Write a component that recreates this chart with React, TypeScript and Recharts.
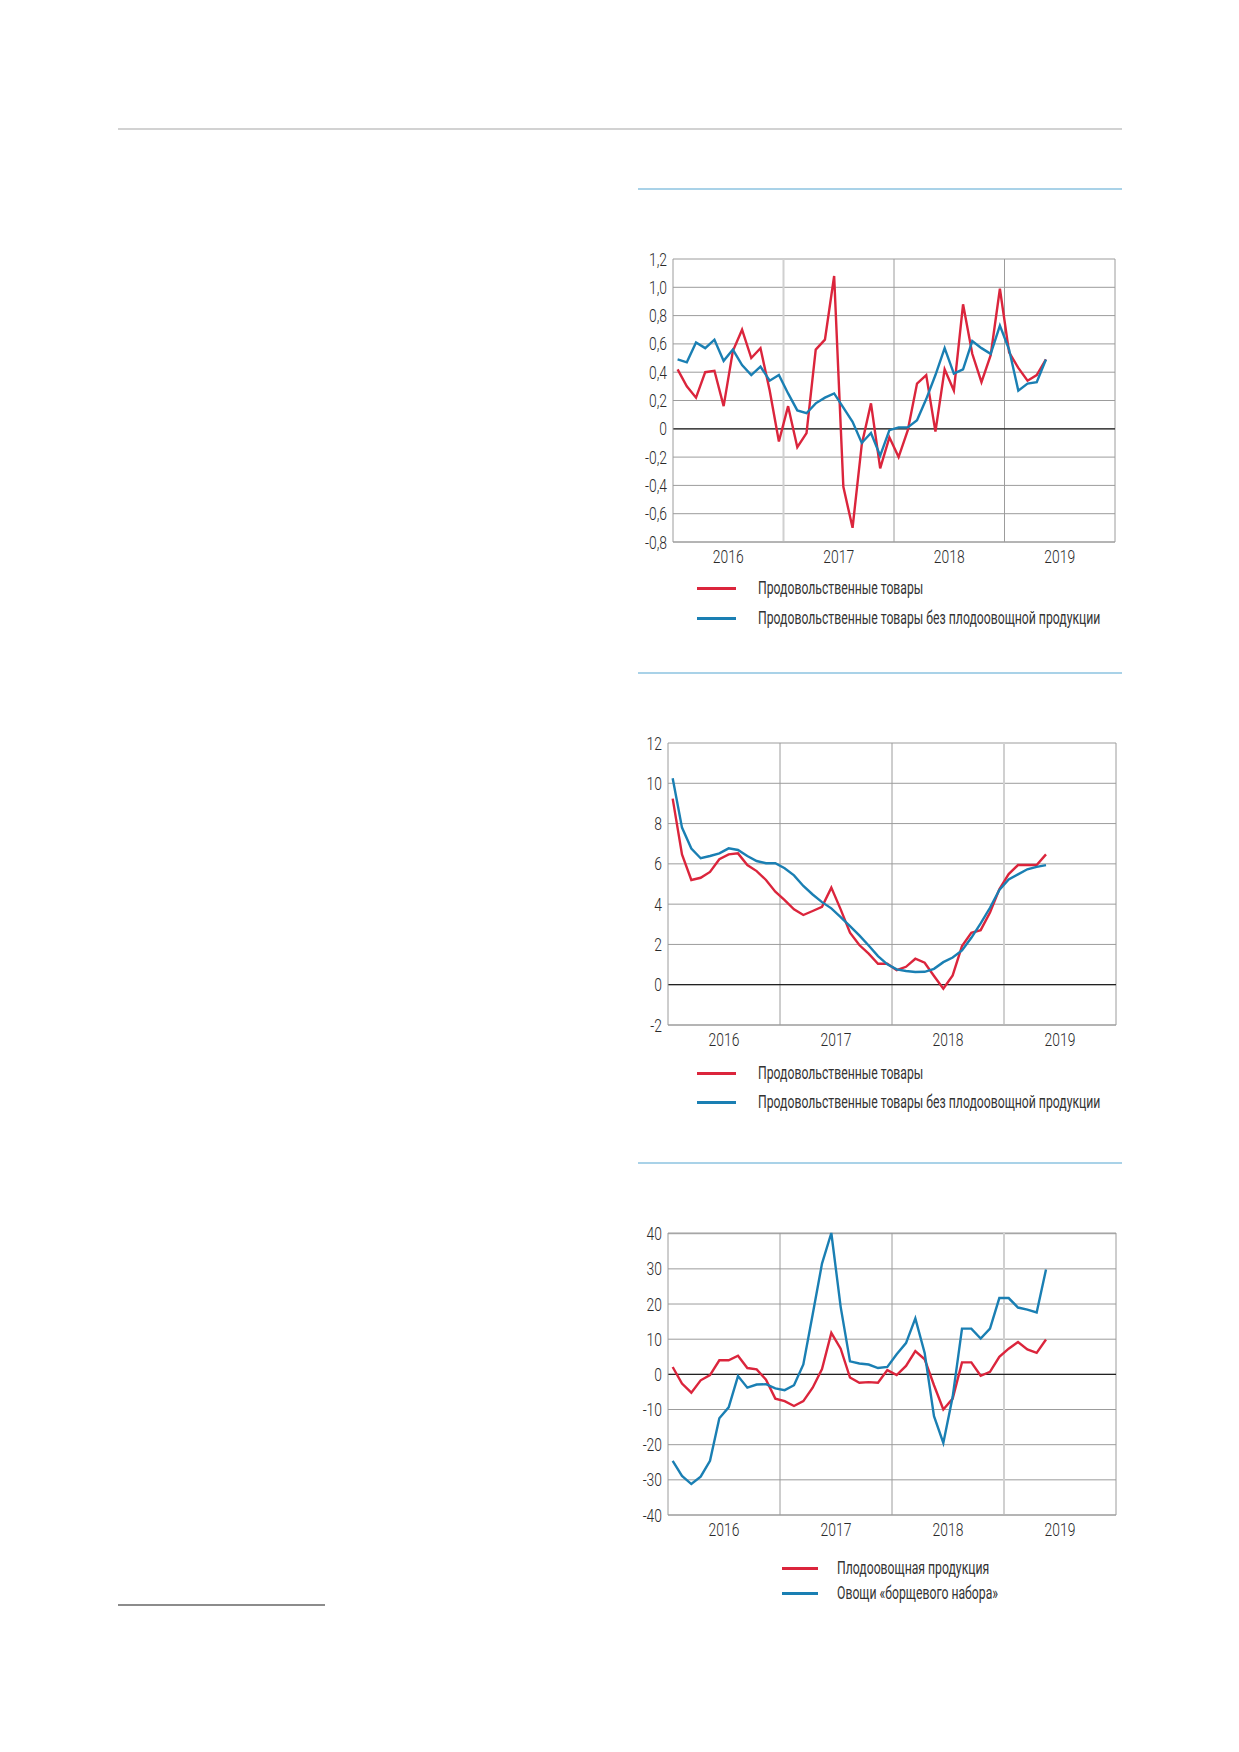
import React from 'react';
import { LineChart, Line, XAxis, YAxis, CartesianGrid, ReferenceLine } from 'recharts';

// months Jan 2016 .. May 2019
const months = [
  '2016-01', '2016-02', '2016-03', '2016-04', '2016-05', '2016-06', '2016-07', '2016-08', '2016-09', '2016-10', '2016-11', '2016-12',
  '2017-01', '2017-02', '2017-03', '2017-04', '2017-05', '2017-06', '2017-07', '2017-08', '2017-09', '2017-10', '2017-11', '2017-12',
  '2018-01', '2018-02', '2018-03', '2018-04', '2018-05', '2018-06', '2018-07', '2018-08', '2018-09', '2018-10', '2018-11', '2018-12',
  '2019-01', '2019-02', '2019-03', '2019-04', '2019-05',
];
const years = ['2016', '2017', '2018', '2019'];
const yearTicks = [6, 18, 30, 42];

// chart 1: month-on-month, %
const foodMoM = [
  0.42, 0.30, 0.22, 0.40, 0.41, 0.16, 0.55, 0.70, 0.50, 0.57, 0.27, -0.09,
  0.16, -0.13, -0.03, 0.56, 0.63, 1.08, -0.41, -0.70, -0.11, 0.18, -0.28, -0.06,
  -0.20, -0.01, 0.32, 0.38, -0.02, 0.42, 0.27, 0.88, 0.53, 0.33, 0.52, 0.99,
  0.54, 0.43, 0.34, 0.38, 0.49,
];
const foodExFvMoM = [
  0.49, 0.47, 0.61, 0.57, 0.63, 0.48, 0.56, 0.45, 0.38, 0.44, 0.34, 0.38,
  0.25, 0.13, 0.11, 0.18, 0.22, 0.25, 0.15, 0.05, -0.10, -0.03, -0.19, -0.01,
  0.01, 0.01, 0.06, 0.21, 0.38, 0.57, 0.39, 0.42, 0.62, 0.57, 0.53, 0.73,
  0.56, 0.27, 0.32, 0.33, 0.49,
];

// chart 2: year-on-year, %
const foodYoY = [
  9.24, 6.47, 5.2, 5.31, 5.6, 6.23, 6.47, 6.52, 5.94, 5.64, 5.2, 4.62,
  4.2, 3.74, 3.46, 3.66, 3.87, 4.82, 3.74, 2.58, 1.97, 1.54, 1.04, 1.04,
  0.72, 0.89, 1.29, 1.09, 0.43, -0.2, 0.46, 1.92, 2.58, 2.71, 3.58, 4.74,
  5.49, 5.94, 5.94, 5.94, 6.47,
];
const foodExFvYoY = [
  10.25, 7.8, 6.76, 6.28, 6.39, 6.52, 6.77, 6.69, 6.39, 6.14, 6.03, 6.03,
  5.78, 5.43, 4.9, 4.48, 4.1, 3.79, 3.36, 2.91, 2.45, 1.95, 1.42, 1.01,
  0.76, 0.68, 0.63, 0.64, 0.79, 1.12, 1.35, 1.7, 2.33, 3.04, 3.82, 4.7,
  5.23, 5.48, 5.73, 5.85, 5.94,
];

// chart 3: year-on-year, %
const fruitVegYoY = [
  2.1, -2.6, -5.2, -1.7, -0.2, 4.0, 4.0, 5.3, 1.8, 1.4, -1.5, -6.9,
  -7.6, -9.0, -7.6, -3.8, 1.5, 11.8, 7.3, -0.9, -2.4, -2.2, -2.4, 1.2,
  -0.2, 2.4, 6.6, 4.3, -3.1, -10.0, -6.9, 3.4, 3.4, -0.4, 0.7, 5.0,
  7.3, 9.2, 7.1, 6.1, 9.9,
];
const borschtYoY = [
  -24.6, -28.9, -31.2, -29.1, -24.6, -12.5, -9.4, -0.5, -3.8, -2.9, -2.8, -4.0,
  -4.5, -3.1, 2.8, 17.0, 31.5, 40.2, 19.2, 3.7, 3.1, 2.8, 1.8, 2.1,
  5.7, 8.9, 15.9, 6.1, -11.9, -19.5, -6.4, 13.0, 13.0, 10.2, 13.0, 21.7,
  21.7, 19.0, 18.4, 17.6, 29.8,
];

const ticks1 = [-0.8, -0.6, -0.4, -0.2, 0, 0.2, 0.4, 0.6, 0.8, 1.0, 1.2];
const ticks2 = [-2, 0, 2, 4, 6, 8, 10, 12];
const ticks3 = [-40, -30, -20, -10, 0, 10, 20, 30, 40];

const names12 = ['Продовольственные товары', 'Продовольственные товары без плодоовощной продукции'];
const names3 = ['Плодоовощная продукция', 'Овощи «борщевого набора»'];

const RED = '#db253c';
const BLUE = '#1a7fb3';
const GRID = '#9c9c9c';
const FONT = "Roboto, 'Liberation Sans', sans-serif";
// the original uses a condensed face, so squeeze the text
const TICK_SQUEEZE = 0.75;
const LEGEND_SQUEEZE = 0.66;

const fmt1 = (v: number) => (v === 0 ? '0' : v.toFixed(1).replace('.', ','));
const fmtInt = (v: number) => String(v);

function NarrowTick({ x, y, payload, textAnchor, formatter, dy }: any) {
  return (
    <g transform={`translate(${x},${y}) scale(${TICK_SQUEEZE},1)`}>
      <text
        x={0}
        y={0}
        dy={dy}
        textAnchor={textAnchor}
        fontFamily={FONT}
        fontSize={18.5}
        fontWeight={300}
        fill="#2a2a2a"
      >
        {formatter(payload.value)}
      </text>
    </g>
  );
}

const yearFmt = (v: number) => years[yearTicks.indexOf(v)];

function Panel({ left, top, width, height, ticks, fmt, red, blue, light }: any) {
  const rows = months.map((m, i) => ({ m: i + 0.5, red: red[i], blue: blue[i] }));
  return (
    <div style={{ position: 'absolute', left, top }}>
      <LineChart width={width} height={height} data={rows} margin={{ top: 19, right: 5, bottom: 0, left: 0 }}>
        <CartesianGrid vertical={false} stroke={GRID} />
        {[12, 24, 36].map((x) => (
          <ReferenceLine
            key={x}
            x={x}
            stroke={x === light ? '#d0d0d0' : GRID}
            strokeWidth={x === light ? 2 : 1}
          />
        ))}
        <ReferenceLine x={48} stroke={GRID} />
        <ReferenceLine y={0} stroke="#222" strokeWidth={1.3} />
        <XAxis
          type="number"
          dataKey="m"
          domain={[0, 48]}
          ticks={yearTicks}
          interval={0}
          tickLine={false}
          axisLine={{ stroke: GRID }}
          tick={(p: any) => <NarrowTick {...p} formatter={yearFmt} dy="0.71em" textAnchor="middle" />}
          height={28}
        />
        <YAxis
          type="number"
          domain={[ticks[0], ticks[ticks.length - 1]]}
          ticks={ticks}
          interval={0}
          tickLine={false}
          tickMargin={0}
          axisLine={{ stroke: GRID }}
          tick={(p: any) => <NarrowTick {...p} formatter={fmt} dy="0.355em" textAnchor="end" />}
          width={53}
        />
        <Line type="linear" dataKey="red" stroke={RED} strokeWidth={2.4} dot={false} isAnimationActive={false} />
        <Line type="linear" dataKey="blue" stroke={BLUE} strokeWidth={2.4} dot={false} isAnimationActive={false} />
      </LineChart>
    </div>
  );
}

function LegendBlock({ lineLeft, lineWidth, textLeft, ys, names }: any) {
  const colors = [RED, BLUE];
  return (
    <>
      {names.map((n: string, i: number) => (
        <div key={n}>
          <div
            style={{
              position: 'absolute',
              left: lineLeft,
              top: ys[i] - 1.5,
              width: lineWidth,
              height: 3,
              background: colors[i],
            }}
          />
          <div
            style={{
              position: 'absolute',
              left: textLeft,
              top: ys[i] - 12,
              height: 24,
              lineHeight: '24px',
              fontFamily: FONT,
              fontSize: 18.5,
              fontWeight: 400,
              color: '#333',
              whiteSpace: 'nowrap',
              transform: `scaleX(${LEGEND_SQUEEZE})`,
              transformOrigin: 'left center',
            }}
          >
            {n}
          </div>
        </div>
      ))}
    </>
  );
}

const rule = (left: number, top: number, width: number, height: number, background: string) => (
  <div style={{ position: 'absolute', left, top, width, height, background }} />
);

export default function App() {
  return (
    <div style={{ position: 'absolute', left: 0, top: 0, width: 1239, height: 1752, background: '#fff' }}>
      {rule(118, 128, 1004, 2, '#d2d2d2')}
      {rule(638, 188, 484, 2, '#a9d2e8')}
      {rule(638, 672, 484, 2, '#a9d2e8')}
      {rule(638, 1162, 484, 2, '#a9d2e8')}
      {rule(118, 1604, 207, 2, '#8c8c8c')}

      <Panel left={620} top={240} width={500} height={330} ticks={ticks1} fmt={fmt1} red={foodMoM} blue={foodExFvMoM} light={12} />
      <LegendBlock lineLeft={697} lineWidth={39} textLeft={758} ys={[588, 618]} names={names12} />

      <Panel left={615} top={724} width={506} height={329} ticks={ticks2} fmt={fmtInt} red={foodYoY} blue={foodExFvYoY} light={36} />
      <LegendBlock lineLeft={697} lineWidth={39} textLeft={758} ys={[1073, 1102]} names={names12} />

      <Panel left={615} top={1214} width={506} height={329} ticks={ticks3} fmt={fmtInt} red={fruitVegYoY} blue={borschtYoY} light={36} />
      <LegendBlock lineLeft={782} lineWidth={36} textLeft={837} ys={[1568, 1593]} names={names3} />
    </div>
  );
}
